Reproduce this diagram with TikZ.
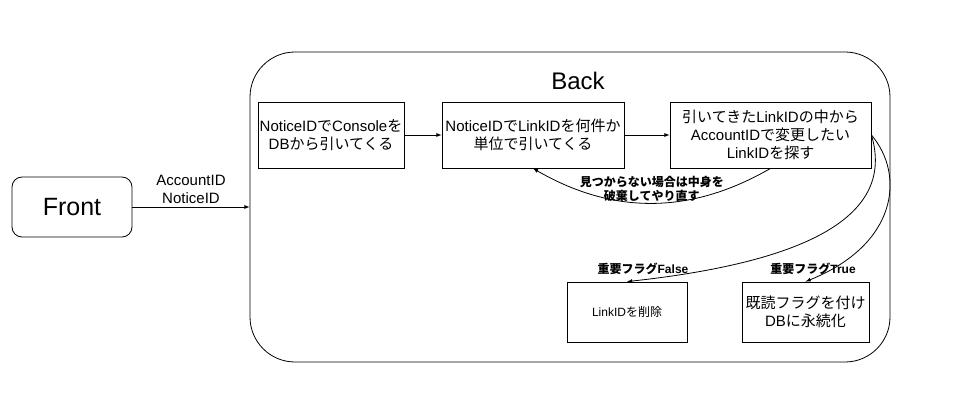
\documentclass[tikz,border=0pt]{standalone}
\usepackage{fontspec}
\setmainfont{Liberation Sans}
\newfontfamily\jpfont{Noto Sans CJK JP}
\newcommand{\ja}[1]{{\jpfont #1}}

\begin{document}
\begin{tikzpicture}[x=1pt, y=-1pt, line width=0.8pt,
	box/.style={draw, minimum width=#1, minimum height=66pt, inner xsep=1pt, align=center, font=\fontsize{15}{18}\selectfont},
	note/.style={align=center, font=\fontsize{12}{14}\selectfont\bfseries}]
	\useasboundingbox (0,0) rectangle (958,409);
	\node [draw, rounded corners=10pt, minimum width=120pt, minimum height=60pt, font=\fontsize{25}{30}\selectfont] (front) at (72,207) {Front};
	\node [draw, rounded corners=45pt, minimum width=640pt, minimum height=310pt] (back) at (570,207) {};
	\node [font=\fontsize{24}{28}\selectfont] (backtitle) at (578,81) {Back};
	\node [box=146pt] (console) at (331,135) {NoticeID\ja{で}Console\ja{を}\\DB\ja{から引いてくる}};
	\node [box=182pt] (linkid) at (533,135) {NoticeID\ja{で}LinkID\ja{を何件か}\\\ja{単位で引いてくる}};
	\node [box=201pt] (search) at (770.5,135) {\ja{引いてきた}LinkID\ja{の中から}\\AccountID\ja{で変更したい}\\LinkID\ja{を探す}};
	\node [box=120pt, minimum height=60pt, font=\fontsize{12}{14}\selectfont] (delete) at (627,312) {LinkID\ja{を削除}};
	\node [box=127pt, minimum height=60pt] (persist) at (805.5,312) {\ja{既読フラグを付け}\\DB\ja{に永続化}};
	\draw [-latex] (front) -- (back.west) node [midway, above, align=center, font=\fontsize{15}{18}\selectfont] {AccountID\\NoticeID};
	\draw [-latex] (console) -- (linkid);
	\draw [-latex] (linkid) -- (search);
	\draw [-latex] (search.south) to [bend left=30] node [midway, above, inner sep=1pt, note] {\ja{見つからない場合は中身を}\\\ja{破棄してやり直す}} (linkid.south);
	\draw [-latex] (search.east) .. controls +(24,80) and +(183,-20) .. (delete.north);
	\draw [-latex] (search.east) .. controls +(34,40) and +(92,-37) .. (persist.north);
	\node [note] (falselabel) at (643,269) {\ja{重要フラグ}False};
	\node [note] (truelabel) at (813,269) {\ja{重要フラグ}True};
\end{tikzpicture}
\end{document}
